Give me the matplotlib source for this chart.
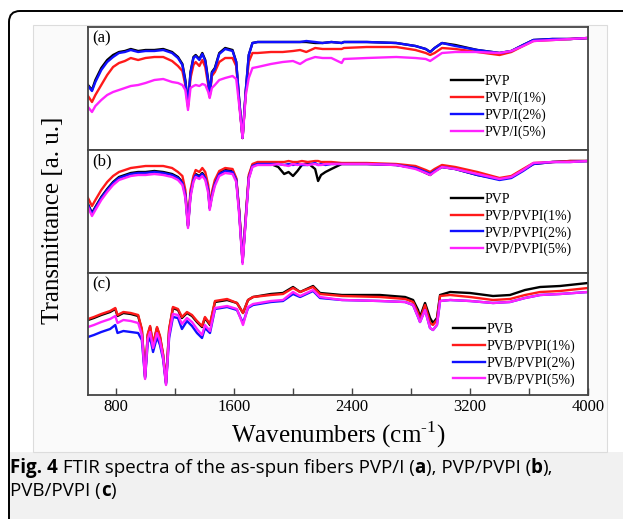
import numpy as np
import matplotlib
matplotlib.use('Agg')
import matplotlib.pyplot as plt
from matplotlib.patches import FancyBboxPatch, Rectangle
from matplotlib.transforms import IdentityTransform

# ---- data (transmittance, arbitrary units) ----
# panel (a): PVP/I
a_wn = [610, 637, 660, 700, 740, 780, 820, 860, 900, 950, 1000, 1060, 1120, 1180, 1220, 1250,
        1270, 1288, 1305, 1325, 1340, 1365, 1385, 1405, 1425, 1435, 1450, 1470, 1500, 1540,
        1590, 1615, 1635, 1658, 1680, 1700, 1725, 1760, 1850, 1930, 2000, 2048, 2090, 2150,
        2200, 2260, 2330, 2345, 2500, 2700, 2830, 2900, 2930, 2960, 3010, 3100, 3250, 3400,
        3480, 3560, 3630, 3760, 3880, 4000]
a_pvp = [65, 60, 70, 82, 90, 95, 98, 99, 101, 99, 100, 100, 101, 98, 93, 86, 70, 45, 78, 93,
         95, 91, 97, 90, 70, 54, 78, 82, 97, 102, 100, 88, 50, 12, 60, 95, 107, 108, 108, 108,
         108, 108, 108, 107, 107, 108, 107, 108, 108, 107, 104, 101, 98, 102, 107, 105, 100,
         97, 99, 105, 110, 111, 111, 112]
a_i1 = [54, 48, 55, 65, 75, 83, 87, 89, 92, 90, 92, 93, 93, 89, 84, 79, 65, 43, 72, 85, 88,
        84, 90, 83, 65, 53, 74, 78, 88, 92, 92, 84, 48, 12, 58, 88, 97, 97, 98, 98, 99, 100,
        98, 102, 101, 101, 101, 102, 103, 103, 100, 97, 95, 97, 102, 101, 98, 95, 98, 104,
        109, 110, 111, 112]
a_i2 = [64, 59, 68, 80, 88, 93, 97, 98, 100, 98, 99, 99, 100, 97, 92, 85, 68, 46, 77, 92, 94,
        90, 96, 89, 68, 54, 77, 81, 96, 101, 99, 88, 50, 12, 60, 95, 107, 108, 108, 108, 108,
        108, 109, 108, 107, 108, 107, 108, 108, 107, 104, 101, 98, 102, 107, 104, 100, 97, 99,
        105, 110, 111, 111, 112]
a_i5 = [43, 38, 44, 50, 55, 58, 60, 62, 64, 65, 67, 70, 71, 68, 67, 65, 60, 40, 62, 64, 65,
        64, 66, 65, 58, 52, 62, 65, 70, 72, 74, 71, 45, 12, 55, 72, 82, 83, 86, 88, 89, 86,
        90, 93, 92, 92, 87, 91, 92, 93, 92, 91, 89, 92, 97, 98, 98, 97, 99, 104, 109, 110,
        111, 112]

# panel (b): PVP/PVPI
b_wn = [610, 637, 660, 700, 740, 780, 820, 860, 900, 950, 1000, 1060, 1120, 1180, 1220, 1250,
        1270, 1288, 1305, 1325, 1340, 1365, 1385, 1405, 1425, 1435, 1450, 1470, 1500, 1540,
        1590, 1615, 1635, 1658, 1680, 1700, 1725, 1760, 1850, 1900, 1940, 1970, 2000, 2030,
        2060, 2100, 2150, 2170, 2190, 2220, 2260, 2330, 2500, 2700, 2830, 2900, 2930, 2960,
        3010, 3100, 3250, 3400, 3480, 3560, 3630, 3760, 3880, 4000]
b_pvp = [69, 60, 66, 76, 84, 91, 96, 98, 100, 101, 101, 102, 101, 99, 96, 91, 79, 47, 79, 94,
         99, 97, 100, 96, 84, 65, 78, 90, 100, 103, 102, 94, 62, 11, 56, 96, 108, 109, 109,
         106, 99, 101, 97, 102, 108, 110, 104, 92, 98, 101, 104, 109, 109, 108, 105, 100, 98,
         102, 106, 104, 98, 94, 96, 103, 109, 111, 112, 112]
b_p1 = [75, 67, 73, 83, 91, 97, 101, 103, 105, 106, 107, 107, 107, 105, 101, 97, 83, 48, 83,
        97, 103, 101, 105, 101, 88, 67, 81, 93, 102, 105, 104, 95, 63, 12, 58, 98, 109, 111,
        111, 111, 111, 112, 111, 111, 112, 111, 112, 112, 111, 111, 111, 110, 110, 109, 107,
        103, 101, 104, 108, 106, 101, 95, 97, 104, 110, 111, 112, 112]
b_p2 = [68, 59, 65, 75, 83, 90, 95, 97, 99, 100, 100, 101, 100, 98, 95, 90, 78, 47, 78, 93,
        98, 96, 99, 95, 83, 65, 77, 89, 99, 102, 101, 93, 61, 11, 55, 95, 107, 109, 109, 109,
        108, 109, 108, 109, 108, 108, 110, 108, 109, 108, 109, 109, 109, 108, 105, 101, 99,
        102, 106, 104, 98, 93, 95, 102, 109, 111, 111, 112]
b_p5 = [66, 57, 63, 73, 81, 88, 93, 95, 97, 98, 98, 99, 98, 96, 93, 88, 75, 45, 76, 91, 96,
        94, 97, 93, 80, 63, 75, 87, 97, 100, 99, 91, 58, 9, 53, 94, 106, 108, 108, 109, 108,
        107, 109, 108, 109, 108, 109, 108, 108, 109, 109, 109, 109, 108, 104, 100, 98, 101,
        106, 104, 99, 94, 96, 103, 110, 111, 111, 112]

# panel (c): PVB/PVPI
c_wn = [610, 650, 700, 760, 795, 810, 850, 900, 950, 975, 997, 1015, 1031, 1051, 1078, 1098,
        1119, 1139, 1160, 1186, 1220, 1247, 1281, 1315, 1349, 1383, 1403, 1437, 1471, 1553,
        1620, 1661, 1695, 1729, 1850, 1932, 2000, 2048, 2136, 2183, 2332, 2590, 2760, 2814,
        2848, 2861, 2895, 2929, 2949, 2976, 2997, 3065, 3200, 3356, 3471, 3573, 3675, 3810,
        4000]
c_pvb = [75, 77, 80, 83, 86, 79, 82, 81, 79, 65, 18, 60, 68, 50, 67, 58, 40, 12, 65, 87, 85,
         77, 82, 79, 73, 68, 77, 70, 93, 95, 92, 82, 95, 98, 101, 102, 108, 103, 109, 102,
         100, 100, 98, 95, 85, 78, 92, 77, 72, 77, 100, 103, 102, 99, 100, 105, 108, 109, 112]
c_p1 = [76, 78, 81, 84, 87, 80, 83, 82, 80, 66, 19, 61, 69, 51, 68, 59, 41, 13, 66, 88, 86,
        78, 83, 80, 74, 69, 78, 71, 94, 96, 92, 82, 95, 98, 100, 101, 107, 103, 108, 101, 99,
        98, 96, 93, 82, 75, 90, 72, 70, 75, 99, 100, 98, 95, 96, 100, 103, 104, 107]
c_p2 = [58, 60, 63, 66, 70, 62, 64, 63, 62, 55, 17, 52, 58, 43, 58, 50, 36, 11, 57, 78, 77,
        66, 74, 69, 62, 57, 67, 62, 86, 88, 85, 72, 87, 90, 93, 94, 101, 98, 104, 97, 95, 94,
        93, 90, 78, 73, 85, 67, 65, 70, 94, 95, 94, 92, 93, 97, 100, 101, 103]
c_p5 = [68, 70, 73, 76, 79, 72, 75, 74, 72, 60, 16, 56, 63, 47, 62, 54, 38, 10, 60, 81, 80,
        71, 77, 73, 66, 60, 70, 64, 87, 89, 86, 70, 88, 91, 94, 95, 103, 99, 105, 98, 95, 94,
        93, 90, 78, 73, 85, 67, 65, 70, 94, 95, 94, 92, 93, 97, 100, 101, 103]

colors = ['black', '#ff1a1a', '#1010ff', '#ff22ff']
panels = [
    ('(a)', a_wn, [a_pvp, a_i1, a_i2, a_i5], ['PVP', 'PVP/I(1%)', 'PVP/I(2%)', 'PVP/I(5%)'], (0.712, 0.665)),
    ('(b)', b_wn, [b_pvp, b_p1, b_p2, b_p5], ['PVP', 'PVP/PVPI(1%)', 'PVP/PVPI(2%)', 'PVP/PVPI(5%)'], (0.712, 0.71)),
    ('(c)', c_wn, [c_pvb, c_p1, c_p2, c_p5], ['PVB', 'PVB/PVPI(1%)', 'PVB/PVPI(2%)', 'PVB/PVPI(5%)'], (0.716, 0.65)),
]

W, H = 623, 519
serif = ['Liberation Serif', 'DejaVu Serif']
plt.rcParams['mathtext.fontset'] = 'custom'
plt.rcParams['mathtext.rm'] = 'Liberation Serif'

fig = plt.figure(figsize=(W / 100, H / 100), dpi=100)
fig.patch.set_facecolor('white')

# outer rounded frame, caption band, chart background (pixel coords, behind the axes)
fig.add_artist(FancyBboxPatch((9, -30), 650, 30 + H - 11, boxstyle='round,pad=0,rounding_size=11',
                              transform=IdentityTransform(), facecolor='white', edgecolor='black',
                              lw=1.4, zorder=-10))
fig.add_artist(Rectangle((10, 0), 630, H - 452, transform=IdentityTransform(),
                         facecolor='#f1f1f1', edgecolor='none', zorder=-9))
fig.add_artist(Rectangle((33, H - 452), 574, 452 - 25, transform=IdentityTransform(),
                         facecolor='#fafafa', edgecolor='#dcdcdc', lw=0.8, zorder=-9))

left, right = 88 / W, 588 / W
edges = [27, 150, 273, 395]
axes = []
for i, (tag, wn, series, labels, anchor) in enumerate(panels):
    top, bot = edges[i], edges[i + 1]
    ax = fig.add_axes([left, 1 - bot / H, right - left, (bot - top) / H])
    ax.set_facecolor('white')
    for y, c, lab in zip(series, colors, labels):
        ax.plot(wn, y, color=c, lw=1.7, label=lab)
    ax.set_xlim(610, 4000)
    ax.set_ylim(0, bot - top)
    ax.set_yticks([])
    for s in ax.spines.values():
        s.set_color('#444444')
        s.set_linewidth(1.3)
    ax.text(0.008, 0.97, tag, transform=ax.transAxes, ha='left', va='top',
            family=serif, fontsize=12)
    ax.legend(loc='upper left', bbox_to_anchor=anchor, frameon=False, borderpad=0,
              handlelength=2.3, handletextpad=0.1, labelspacing=0.25,
              prop={'family': serif, 'size': 10})
    axes.append(ax)

for ax in axes[:2]:
    ax.set_xticks([])
ax = axes[2]
ax.set_xticks([800, 1600, 2400, 3200, 4000])
ax.set_xticks([1200, 2000, 2800, 3600], minor=True)
ax.tick_params(axis='x', which='both', direction='in', length=5, width=1, color='#444444')
ax.tick_params(axis='x', labelsize=12, pad=3)
for t in ax.get_xticklabels():
    t.set_family(serif)
ax.set_xlabel('Wavenumbers (cm$^{\\text{-}1}$)', family=serif, fontsize=18, labelpad=3)

fig.text(53 / W, 1 - 220 / H, 'Transmittance [a. u.]', rotation=90, ha='center', va='center',
         family=serif, fontsize=18)

# caption with bold segments
cap_font = ['Open Sans', 'DejaVu Sans']
cap_size = 13.5
renderer = fig.canvas.get_renderer()
lines = [
    [('Fig. 4', 'bold'), (' FTIR spectra of the as-spun fibers PVP/I (', 'normal'), ('a', 'bold'),
     ('), PVP/PVPI (', 'normal'), ('b', 'bold'), ('),', 'normal')],
    [('PVB/PVPI (', 'normal'), ('c', 'bold'), (')', 'normal')],
]
for row, parts in enumerate(lines):
    x = 10
    y = H - (468 + 23 * row)
    for s, wt in parts:
        t = fig.text(x / W, y / H, s, family=cap_font, fontsize=cap_size, weight=wt,
                     ha='left', va='center')
        x = t.get_window_extent(renderer).x1

fig.savefig('out.png', dpi=100)
